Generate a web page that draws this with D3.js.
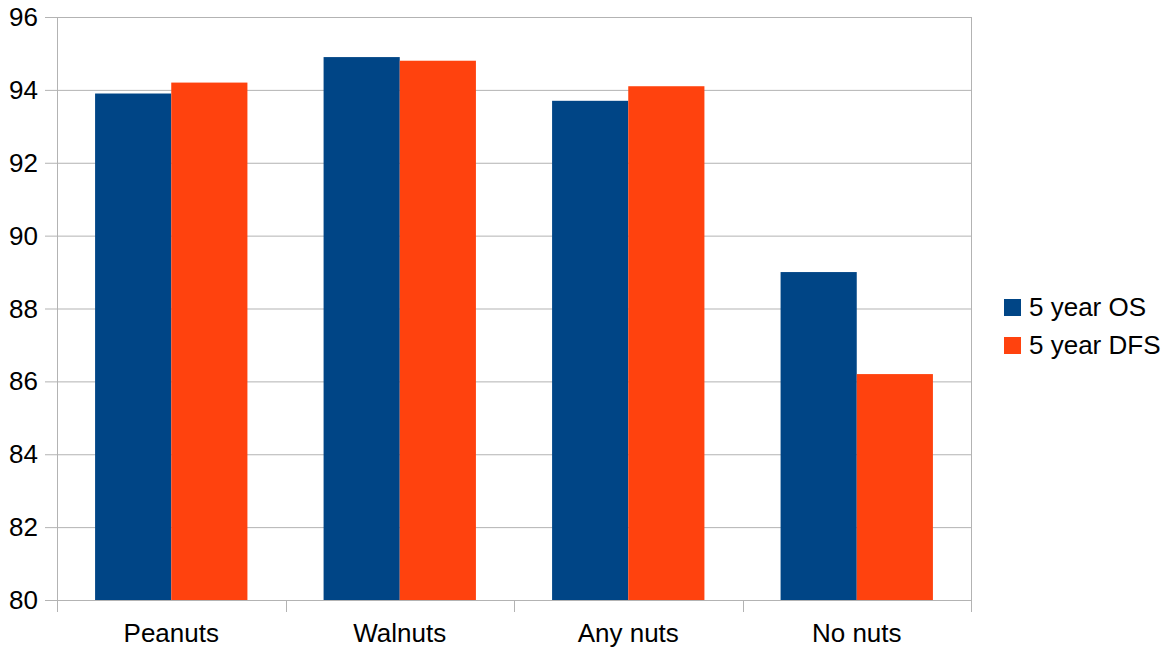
<!DOCTYPE html>
<html>
<head>
<meta charset="utf-8">
<script src="https://cdn.jsdelivr.net/npm/d3@7"></script>
<style>
  html, body { margin: 0; padding: 0; background: #fff; }
  svg { display: block; font-family: "Liberation Sans", Arial, sans-serif; }
</style>
</head>
<body>
<svg id="chart" width="1172" height="647"></svg>
<script>
// Survival rates by nut consumption group
const categories = ["Peanuts", "Walnuts", "Any nuts", "No nuts"];
const seriesNames = ["5 year OS", "5 year DFS"];
const osValues = [93.9, 94.9, 93.7, 89.0];
const dfsValues = [94.2, 94.8, 94.1, 86.2];
const yTicks = [80, 82, 84, 86, 88, 90, 92, 94, 96];
const colors = ["#004586", "#ff420e"];

const svg = d3.select("#chart");
const plotLeft = 57, plotRight = 971, plotTop = 17, plotBottom = 600;
const gridColor = "#b3b3b3";

const x = d3.scaleBand().domain(categories).range([plotLeft, plotRight]).padding(0);
const inner = d3.scaleBand().domain(seriesNames).range([0, x.bandwidth()])
  .paddingInner(0).paddingOuter(0.5);
const y = d3.scaleLinear().domain([80, 96]).range([plotBottom, plotTop]);

// horizontal gridlines with short outward ticks
svg.append("g").selectAll("line").data(yTicks).join("line")
  .attr("x1", plotLeft - 12).attr("x2", plotRight)
  .attr("y1", d => y(d) + 0.5).attr("y2", d => y(d) + 0.5)
  .attr("stroke", gridColor).attr("stroke-width", 1);

// vertical axis lines and category separators
const seps = categories.map(c => x(c)).concat([plotRight]);
svg.append("g").selectAll("line").data(seps).join("line")
  .attr("x1", d => Math.round(d) + 0.5).attr("x2", d => Math.round(d) + 0.5)
  .attr("y1", (d, i) => (i === 0 || i === seps.length - 1) ? plotTop : plotBottom)
  .attr("y2", plotBottom + 12)
  .attr("stroke", gridColor).attr("stroke-width", 1);

// bars
const rows = categories.map((c, i) => ({ c, vals: [osValues[i], dfsValues[i]] }));
const groups = svg.append("g").selectAll("g").data(rows).join("g")
  .attr("transform", d => `translate(${x(d.c)},0)`);
groups.selectAll("rect")
  .data(d => d.vals.map((v, j) => ({ name: seriesNames[j], v, j })))
  .join("rect")
  .attr("x", d => inner(d.name))
  .attr("width", inner.bandwidth())
  .attr("y", d => y(d.v))
  .attr("height", d => y(80) - y(d.v))
  .attr("fill", d => colors[d.j]);

// y tick labels
svg.append("g").selectAll("text").data(yTicks).join("text")
  .attr("x", 38).attr("y", d => y(d) + 9)
  .attr("text-anchor", "end")
  .attr("font-size", 26).attr("fill", "#000")
  .text(d => d);

// category labels
svg.append("g").selectAll("text").data(categories).join("text")
  .attr("x", d => x(d) + x.bandwidth() / 2).attr("y", 642)
  .attr("text-anchor", "middle")
  .attr("font-size", 26).attr("fill", "#000")
  .text(d => d);

// legend
const legend = svg.append("g").selectAll("g").data(seriesNames).join("g")
  .attr("transform", (d, i) => `translate(1004,${299 + i * 38})`);
legend.append("rect").attr("width", 17).attr("height", 17)
  .attr("fill", (d, i) => colors[i]);
legend.append("text").attr("x", 25).attr("y", 17)
  .attr("font-size", 26).attr("fill", "#000")
  .text(d => d);
</script>
</body>
</html>
